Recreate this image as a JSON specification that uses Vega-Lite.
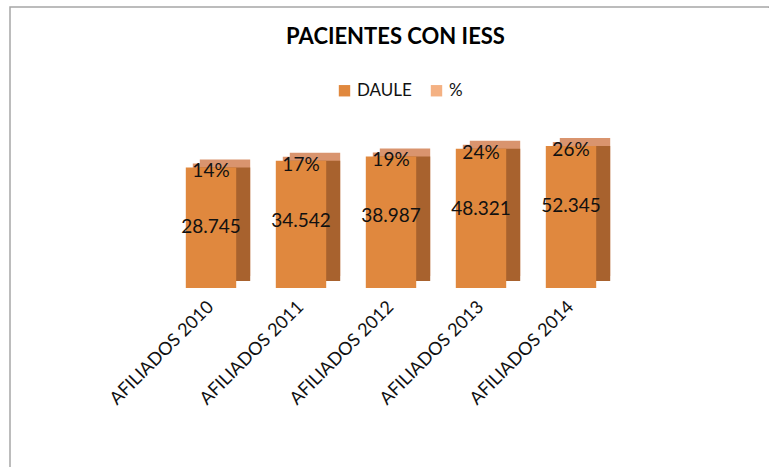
{
  "$schema": "https://vega.github.io/schema/vega-lite/v6.json",
  "autosize": {"type": "none"},
  "width": 759,
  "height": 460,
  "padding": {"left": 10, "top": 7, "right": 0, "bottom": 0},
  "background": "white",
  "title": {
    "text": "PACIENTES CON IESS",
    "font": "Lato",
    "fontSize": 22,
    "fontWeight": "bold",
    "color": "#000000",
    "anchor": "middle",
    "frame": "group",
    "offset": -42,
    "dx": 6
  },
  "config": {
    "font": "Lato",
    "locale": {"number": {"decimal": ",", "thousands": ".", "grouping": [3], "currency": ["$", ""]}},
    "view": {"stroke": "#A6A6A6", "strokeWidth": 1.5, "strokeDash": [1, 0], "strokeOpacity": 1},
    "style": {"cell": {"strokeDash": [760, 1218, 460, 2]}}
  },
  "data": {
    "values": [
      {"cat": "AFILIADOS 2010", "daule": 28745, "pct": 0.14},
      {"cat": "AFILIADOS 2011", "daule": 34542, "pct": 0.17},
      {"cat": "AFILIADOS 2012", "daule": 38987, "pct": 0.19},
      {"cat": "AFILIADOS 2013", "daule": 48321, "pct": 0.24},
      {"cat": "AFILIADOS 2014", "daule": 52345, "pct": 0.26}
    ]
  },
  "encoding": {
    "x": {
      "field": "cat",
      "type": "nominal",
      "sort": null,
      "scale": {"range": [156, 606], "paddingInner": 0.44, "paddingOuter": 0.22},
      "axis": {
        "title": null,
        "orient": "bottom",
        "offset": -167,
        "domain": false,
        "ticks": false,
        "labelAngle": -45,
        "labelAlign": "right",
        "labelBaseline": "middle",
        "labelFont": "Lato",
        "labelFontSize": 18,
        "labelColor": "#111111",
        "labelPadding": 4
      }
    },
    "y": {
      "field": "daule",
      "type": "quantitative",
      "scale": {"type": "log", "domain": [1000, 60000], "range": [281, 134]},
      "axis": null
    }
  },
  "layer": [
    {
      "mark": {"type": "bar", "color": "#D9946E", "xOffset": 14, "x2Offset": 14, "yOffset": -8, "y2Offset": -12},
      "encoding": {"y2": {"datum": 1000}}
    },
    {
      "mark": {"type": "bar", "color": "#D9946E", "xOffset": 7, "x2Offset": 7, "yOffset": -4, "y2Offset": -12},
      "encoding": {"y2": {"datum": 1000}}
    },
    {
      "mark": {"type": "bar", "color": "#A8622E", "xOffset": 14, "x2Offset": 14, "y2Offset": -7},
      "encoding": {"y2": {"datum": 1000}}
    },
    {
      "mark": {"type": "bar"},
      "encoding": {
        "y2": {"datum": 1000},
        "color": {
          "datum": "DAULE",
          "type": "nominal",
          "scale": {"domain": ["DAULE", "%"], "range": ["#E0883E", "#F4B183"]},
          "legend": {
            "orient": "none",
            "legendX": 326,
            "legendY": 75,
            "direction": "horizontal",
            "title": null,
            "symbolType": "square",
            "symbolSize": 130,
            "labelFont": "Lato",
            "labelFontSize": 17,
            "labelColor": "#111111",
            "columnPadding": 16,
            "symbolStrokeWidth": 0
          }
        }
      }
    },
    {
      "mark": {"type": "text", "font": "Lato", "fontSize": 19, "color": "#111111", "baseline": "middle", "dy": 4},
      "encoding": {"text": {"field": "pct", "type": "quantitative", "format": ".0%"}}
    },
    {
      "mark": {"type": "text", "font": "Lato", "fontSize": 19, "color": "#111111", "baseline": "middle", "dy": 60},
      "encoding": {"text": {"field": "daule", "type": "quantitative", "format": ","}}
    }
  ]
}
